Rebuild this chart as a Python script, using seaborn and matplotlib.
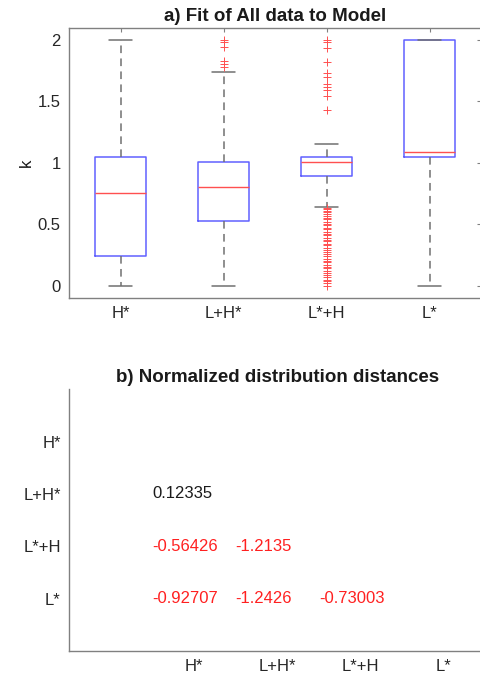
import numpy as np
import seaborn as sns
import matplotlib.pyplot as plt

# categories shared by both panels
labels = ['H*', 'L+H*', 'L*+H', 'L*']

# panel a: box statistics
whislo = [0.0, 0.0, 0.643, 0.0]
q1 = [0.24, 0.526, 0.89, 1.05]
med = [0.75, 0.805, 1.006, 1.09]
q3 = [1.05, 1.006, 1.05, 2.0]
whishi = [2.0, 1.739, 1.15, 2.0]
fliers = [
    [],
    [2.0, 1.98, 1.94, 1.83, 1.80, 1.78],
    [2.0, 1.98, 1.935, 1.815, 1.73, 1.70, 1.64, 1.615, 1.587, 1.546, 1.43,
     0.0, 0.02, 0.04, 0.05, 0.07, 0.09, 0.10, 0.12, 0.14, 0.15, 0.17, 0.19,
     0.20, 0.22, 0.24, 0.26, 0.27, 0.29, 0.31, 0.33, 0.34, 0.36, 0.37, 0.39,
     0.41, 0.42, 0.44, 0.46, 0.47, 0.49, 0.50, 0.52, 0.54, 0.55, 0.57, 0.58,
     0.60, 0.61, 0.62, 0.63],
    [],
]

# panel b: lower triangle of normalized distances (row, column)
dist_rows = ['L+H*', 'L*+H', 'L*+H', 'L*', 'L*', 'L*']
dist_cols = ['H*', 'H*', 'L+H*', 'H*', 'L+H*', 'L*+H']
dist_vals = ['0.12335', '-0.56426', '-1.2135', '-0.92707', '-1.2426', '-0.73003']

sns.set_style('white')
plt.rcParams['font.family'] = ['Liberation Sans', 'DejaVu Sans']
plt.rcParams['xtick.direction'] = 'in'
plt.rcParams['ytick.direction'] = 'in'
plt.rcParams['text.color'] = '#1a1a1a'
plt.rcParams['axes.labelcolor'] = '#1a1a1a'
plt.rcParams['xtick.labelcolor'] = '#262626'
plt.rcParams['ytick.labelcolor'] = '#262626'

fig = plt.figure(figsize=(4.81, 6.76), dpi=100)
edge = '#808080'

# ---- a) box plot ----
ax1 = fig.add_axes([0.1435, 0.5592, 0.8565, 0.3994])
stats = []
for i in range(len(labels)):
    stats.append({'whislo': whislo[i], 'q1': q1[i], 'med': med[i], 'q3': q3[i],
                  'whishi': whishi[i], 'fliers': fliers[i], 'label': labels[i]})
ax1.bxp(stats, positions=[1, 2, 3, 4], widths=0.5, showfliers=True,
        boxprops=dict(color='#6060ff', lw=1.1),
        medianprops=dict(color='#ff5050', lw=1.0),
        whiskerprops=dict(color='#707070', lw=1.1, linestyle=(0, (5, 3.5))),
        capprops=dict(color='#707070', lw=1.1),
        capwidths=0.22,
        flierprops=dict(marker='+', markeredgecolor='#ff5050', markersize=6,
                        markeredgewidth=0.7, linestyle='none'))
ax1.set_xlim(0.5, 4.5)
ax1.set_ylim(-0.1, 2.095)
ax1.set_yticks([0, 0.5, 1, 1.5, 2])
ax1.set_yticklabels(['0', '0.5', '1', '1.5', '2'])
ax1.set_xticks([1, 2, 3, 4])
ax1.set_xticklabels(labels)
ax1.set_ylabel('k', fontsize=12, labelpad=3)
ax1.set_title('a) Fit of All data to Model', fontsize=13.5, fontweight='bold', pad=5)
ax1.tick_params(labelsize=12, length=3, color=edge, top=True, right=True, pad=6)
for s in ax1.spines.values():
    s.set_color(edge)
    s.set_linewidth(1.0)

# ---- b) distance table ----
ax2 = fig.add_axes([0.1435, 0.037, 0.866, 0.3871])
pos = {name: i + 1 for i, name in enumerate(labels)}
for r, c, v in zip(dist_rows, dist_cols, dist_vals):
    color = '#1a1a1a' if not v.startswith('-') else '#ff2020'
    ax2.text(pos[c] - 0.5, pos[r], v, color=color, fontsize=12,
             ha='left', va='center')
ax2.set_xlim(-0.5, 4.5)
ax2.set_ylim(5, 0)
ax2.set_xticks([1, 2, 3, 4])
ax2.set_xticklabels(labels)
ax2.set_yticks([1, 2, 3, 4])
ax2.set_yticklabels(labels)
ax2.set_title('b) Normalized distribution distances', fontsize=13.5,
              fontweight='bold', pad=5)
ax2.tick_params(labelsize=12, length=3, color=edge, pad=6)
for side in ['top', 'right']:
    ax2.spines[side].set_visible(False)
for side in ['left', 'bottom']:
    ax2.spines[side].set_color(edge)
    ax2.spines[side].set_linewidth(1.0)

fig.savefig('out.png', dpi=100)
